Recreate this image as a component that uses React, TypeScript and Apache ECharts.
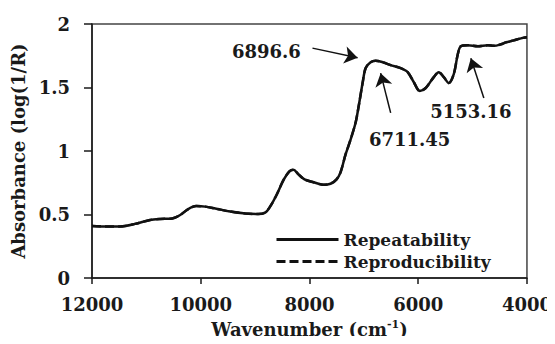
import React, { useEffect, useRef } from "react";
import * as echarts from "echarts";

// Wavenumber (cm-1) and absorbance
const wavenumbers = [
  12000, 11760, 11484, 11207, 10931, 10747, 10525, 10378, 10230, 10083, 9917, 9733, 9456, 9180,
  8940, 8811, 8719, 8608, 8479, 8369, 8295, 8203, 8092, 7926, 7742, 7613, 7502, 7429, 7336, 7244,
  7152, 7097, 7023, 6968, 6876, 6783, 6654, 6507, 6323, 6194, 6083, 5972, 5862, 5714, 5622, 5530,
  5438, 5346, 5272, 5217, 5088, 4903, 4719, 4608, 4479, 4387, 4240, 4111, 4000,
];
const repeatability = [
  0.41, 0.406, 0.406, 0.426, 0.457, 0.465, 0.469, 0.496, 0.543, 0.566, 0.562, 0.547, 0.523, 0.508,
  0.504, 0.516, 0.566, 0.652, 0.77, 0.84, 0.852, 0.816, 0.777, 0.754, 0.734, 0.742, 0.777, 0.832,
  0.973, 1.09, 1.223, 1.348, 1.535, 1.652, 1.699, 1.711, 1.699, 1.676, 1.652, 1.621, 1.543, 1.473,
  1.496, 1.582, 1.621, 1.582, 1.535, 1.605, 1.762, 1.824, 1.832, 1.824, 1.832, 1.828, 1.84, 1.855,
  1.871, 1.887, 1.895,
];
// Reproducibility overlaps the repeatability curve in the reference
const reproducibility = [
  0.41, 0.406, 0.406, 0.426, 0.457, 0.465, 0.469, 0.496, 0.543, 0.566, 0.562, 0.547, 0.523, 0.508,
  0.504, 0.516, 0.566, 0.652, 0.77, 0.84, 0.852, 0.816, 0.777, 0.754, 0.734, 0.742, 0.777, 0.832,
  0.973, 1.09, 1.223, 1.348, 1.535, 1.652, 1.699, 1.711, 1.699, 1.676, 1.652, 1.621, 1.543, 1.473,
  1.496, 1.582, 1.621, 1.582, 1.535, 1.605, 1.762, 1.824, 1.832, 1.824, 1.832, 1.828, 1.84, 1.855,
  1.871, 1.887, 1.895,
];
const seriesNames = ["Repeatability", "Reproducibility"];
const xTicks = [12000, 10000, 8000, 6000, 4000];
const yTicks = [0, 0.5, 1, 1.5, 2];

// Annotations: label text, label position, arrow tail and arrow tip (data coords)
const annLabels = ["6896.6", "6711.45", "5153.16"];
const annLabelPos = [
  [8793, 1.785],
  [6157, 1.09],
  [5032, 1.31],
];
const annArrowFrom = [
  [7945, 1.81],
  [6507, 1.3],
  [4793, 1.418],
];
const annArrowTo = [
  [7115, 1.735],
  [6691, 1.613],
  [5032, 1.73],
];

const FONT = "'DejaVu Serif', 'Liberation Serif', serif";
const INK = "#1a1a1a";

export default function App() {
  const ref = useRef<HTMLDivElement>(null);
  useEffect(() => {
    if (!ref.current) return;
    const chart = echarts.init(ref.current, undefined, { renderer: "svg" });
    const toPairs = (ys: number[]) => wavenumbers.map((x, i) => [x, ys[i]]);
    chart.setOption({
      animation: false,
      grid: {
        left: 92,
        right: 28,
        top: 24,
        bottom: 64,
        show: true,
        borderColor: "#444",
        borderWidth: 1.5,
        containLabel: false,
      },
      legend: {
        left: 270,
        top: 226,
        orient: "vertical",
        itemWidth: 62,
        itemHeight: 14,
        itemGap: 5,
        data: seriesNames,
        itemStyle: { color: "transparent", borderColor: "transparent", borderWidth: 0, opacity: 0 },
        lineStyle: { width: 3 },
        textStyle: { fontFamily: FONT, fontWeight: "bold", fontSize: 17, color: INK },
      },
      xAxis: {
        type: "value",
        inverse: true,
        min: 4000,
        max: 12000,
        interval: 2000,
        name: "Wavenumber (cm{sup|-1})",
        nameLocation: "middle",
        nameGap: 41,
        nameTextStyle: {
          fontFamily: FONT,
          fontWeight: "bold",
          fontSize: 18,
          lineHeight: 20,
          color: INK,
          rich: {
            sup: {
              fontFamily: FONT,
              fontWeight: "bold",
              fontSize: 11,
              lineHeight: 12,
              color: INK,
              verticalAlign: "top",
            },
          },
        },
        axisLine: { lineStyle: { color: INK, width: 1.5 } },
        axisTick: { show: true, length: 6, lineStyle: { color: INK, width: 1.5 } },
        splitLine: { show: false },
        axisLabel: {
          margin: 17,
          fontFamily: FONT,
          fontWeight: "bold",
          fontSize: 18,
          color: INK,
          formatter: (v: number) => (xTicks.includes(v) ? String(v) : ""),
        },
      },
      yAxis: {
        type: "value",
        min: 0,
        max: 2,
        interval: 0.5,
        name: "Absorbance (log(1/R)",
        nameLocation: "middle",
        nameGap: 54,
        nameTextStyle: { fontFamily: FONT, fontWeight: "bold", fontSize: 18, color: INK },
        axisLine: { show: true, lineStyle: { color: INK, width: 1.5 } },
        axisTick: { show: true, length: 8, lineStyle: { color: INK, width: 1.5 } },
        splitLine: { show: false },
        axisLabel: {
          margin: 22,
          fontFamily: FONT,
          fontWeight: "bold",
          fontSize: 18,
          color: INK,
          formatter: (v: number) => (yTicks.includes(v) ? String(v) : ""),
        },
      },
      series: [
        {
          name: seriesNames[1],
          type: "line",
          data: toPairs(reproducibility),
          symbol: "none",
          smooth: 0.3,
          z: 2,
          lineStyle: { color: "#111", width: 2.5, type: [9, 4] },
          itemStyle: { color: "#111" },
        },
        {
          name: seriesNames[0],
          type: "line",
          data: toPairs(repeatability),
          symbol: "none",
          smooth: 0.3,
          z: 3,
          lineStyle: { color: "#111", width: 2.5, type: "solid" },
          itemStyle: { color: "#111" },
          markLine: {
            silent: true,
            symbol: ["none", "arrow"],
            symbolSize: 13,
            label: { show: false },
            lineStyle: { color: "#111", width: 1.5, type: "solid" },
            data: annArrowFrom.map((f, i) => [{ coord: f }, { coord: annArrowTo[i] }]),
          },
          markPoint: {
            silent: true,
            symbol: "circle",
            symbolSize: 0,
            label: {
              show: true,
              position: "inside",
              formatter: "{b}",
              fontFamily: FONT,
              fontWeight: "bold",
              fontSize: 18,
              color: INK,
            },
            data: annLabels.map((t, i) => ({ name: t, coord: annLabelPos[i] })),
          },
        },
      ],
    });
    return () => chart.dispose();
  }, []);
  return <div ref={ref} style={{ width: 555, height: 344, margin: -8 }} />;
}
